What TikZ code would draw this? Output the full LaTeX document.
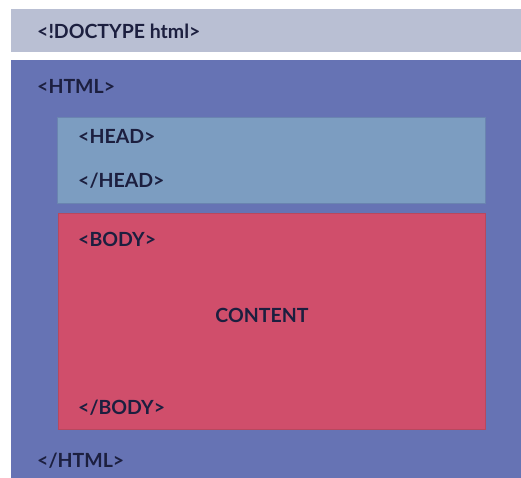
\documentclass[tikz,border=0pt]{standalone}
\usepackage{fontspec}
\setmainfont{Lato}
\definecolor{doctypebg}{HTML}{B9BFD3}
\definecolor{htmlbg}{HTML}{6673B4}
\definecolor{headbg}{HTML}{7C9DC1}
\definecolor{headedge}{HTML}{6A84B0}
\definecolor{bodybg}{HTML}{D04E6B}
\definecolor{bodyedge}{HTML}{B8485E}
\definecolor{tagtext}{HTML}{1C1F3F}
\tikzset{
  tag/.style={anchor=west, inner sep=0pt, text=tagtext, font=\bfseries\fontsize{19.5bp}{23bp}\selectfont},
  region/.style={anchor=north west, inner sep=0pt, outer sep=0pt}
}
\begin{document}
\begin{tikzpicture}[x=1bp, y=-1bp]
\useasboundingbox (0,0) rectangle (521,478);
\fill[white] (0,0) rectangle (521,478);
% document type declaration bar
\fill[doctypebg] (11,9) rectangle (521,52);
% html element
\fill[htmlbg] (11,60) rectangle (521,478);
% head element
\draw[headedge, fill=headbg, line width=0.8bp] (57,117) rectangle (485,203);
% body element
\draw[bodyedge, fill=bodybg, line width=0.8bp] (58,213) rectangle (485,429);
\node[tag] (doctype) at (37,31) {<!DOCTYPE html>};
\node[tag] (htmlopen) at (37,86) {<HTML>};
\node[tag] (headopen) at (78,136) {<HEAD>};
\node[tag] (headclose) at (78,181) {</HEAD>};
\node[tag] (bodyopen) at (78,239) {<BODY>};
\node[tag, anchor=center] (content) at (262,315) {CONTENT};
\node[tag] (bodyclose) at (78,408) {</BODY>};
\node[tag] (htmlclose) at (37,461) {</HTML>};
\end{tikzpicture}
\end{document}
